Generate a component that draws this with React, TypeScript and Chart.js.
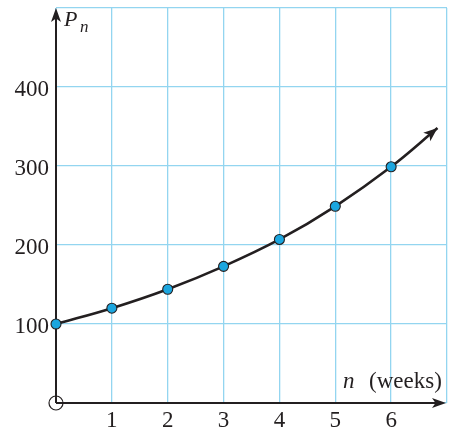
import React, { useEffect, useRef } from "react";
import { Chart, registerables } from "chart.js";

Chart.register(...registerables);

const nWeeks = [0, 1, 2, 3, 4, 5, 6];
const population = [100, 120, 144, 173, 207, 249, 299];
const curveEndN = 6.83;
const curveEndP = 348;
const xTickLabels = [1, 2, 3, 4, 5, 6];
const yTickLabels = [100, 200, 300, 400];

const FONT = "'Liberation Serif', 'DejaVu Serif', serif";
const GRID = "#93d5f0";
const INK = "#231f20";

function arrowHead(ctx: CanvasRenderingContext2D, tx: number, ty: number, ang: number, len: number, half: number) {
  ctx.save();
  ctx.translate(tx, ty);
  ctx.rotate(ang);
  ctx.beginPath();
  ctx.moveTo(0, 0);
  ctx.lineTo(-len, -half);
  ctx.lineTo(-len * 0.75, 0);
  ctx.lineTo(-len, half);
  ctx.closePath();
  ctx.fillStyle = INK;
  ctx.fill();
  ctx.restore();
}

const decorPlugin = {
  id: "decor",
  beforeDatasetsDraw(chart: any) {
    const { ctx, chartArea, scales } = chart;
    const x0 = scales.x.getPixelForValue(0);
    const y0 = scales.y.getPixelForValue(0);
    ctx.save();
    ctx.strokeStyle = INK;
    ctx.lineWidth = 2;
    ctx.beginPath();
    ctx.moveTo(x0, y0);
    ctx.lineTo(x0, chartArea.top + 6);
    ctx.moveTo(x0, y0);
    ctx.lineTo(chartArea.right - 7, y0);
    ctx.stroke();
    arrowHead(ctx, x0, chartArea.top, -Math.PI / 2, 14, 5);
    arrowHead(ctx, chartArea.right - 1, y0, 0, 14, 5);
    ctx.lineWidth = 1.2;
    ctx.beginPath();
    ctx.arc(x0, y0, 7, 0, Math.PI * 2);
    ctx.stroke();
    // tick labels
    ctx.fillStyle = INK;
    ctx.font = `23px ${FONT}`;
    ctx.textBaseline = "alphabetic";
    ctx.textAlign = "center";
    xTickLabels.forEach((v) => {
      ctx.fillText(String(v), scales.x.getPixelForValue(v), y0 + 24);
    });
    ctx.textAlign = "right";
    yTickLabels.forEach((v) => {
      ctx.fillText(String(v), x0 - 7, scales.y.getPixelForValue(v) + 9);
    });
    ctx.restore();
  },
  afterDatasetsDraw(chart: any) {
    const { ctx } = chart;
    const x0 = chart.scales.x.getPixelForValue(0);
    ctx.save();
    const meta = chart.getDatasetMeta(0);
    const last = meta.data[meta.data.length - 1];
    const cx = last.cp1x ?? meta.data[meta.data.length - 2].x;
    const cy = last.cp1y ?? meta.data[meta.data.length - 2].y;
    const ang = Math.atan2(last.y - cy, last.x - cx);
    arrowHead(ctx, last.x, last.y, ang, 14, 5.5);
    ctx.fillStyle = INK;
    ctx.textBaseline = "alphabetic";
    ctx.textAlign = "left";
    ctx.font = `italic 22px ${FONT}`;
    ctx.fillText("P", x0 + 8, 26);
    ctx.font = `italic 17px ${FONT}`;
    ctx.fillText("n", x0 + 24, 32);
    ctx.font = `italic 23px ${FONT}`;
    ctx.fillText("n", 343, 388);
    ctx.font = `23px ${FONT}`;
    ctx.fillText("(weeks)", 369, 388);
    ctx.restore();
  },
};

export default function App() {
  const ref = useRef<HTMLCanvasElement>(null);
  useEffect(() => {
    if (!ref.current) return;
    const pts = nWeeks.map((n, i) => ({ x: n, y: population[i] }));
    pts.push({ x: curveEndN, y: curveEndP });
    const radii = nWeeks.map(() => 5).concat([0]);
    const chart = new Chart(ref.current, {
      type: "line",
      data: {
        datasets: [
          {
            data: pts,
            borderColor: INK,
            borderWidth: 2.6,
            tension: 0.4,
            pointRadius: radii,
            pointBackgroundColor: "#1ba6df",
            pointBorderColor: INK,
            pointBorderWidth: 1.1,
            fill: false,
            clip: false,
          },
        ],
      },
      options: {
        responsive: false,
        animation: false,
        events: [],
        layout: { autoPadding: false, padding: { top: 8, right: 2, left: 0, bottom: 0 } },
        plugins: { legend: { display: false }, tooltip: { enabled: false }, title: { display: false } },
        scales: {
          x: {
            type: "linear",
            min: 0,
            max: 7,
            border: { display: false },
            grid: { color: GRID, lineWidth: 1.3, drawTicks: false },
            ticks: { stepSize: 1, display: false },
            afterFit: (s: any) => {
              s.height = 28;
            },
          },
          y: {
            type: "linear",
            min: 0,
            max: 500,
            border: { display: false },
            grid: { color: GRID, lineWidth: 1.3, drawTicks: false },
            ticks: { stepSize: 100, display: false },
            afterFit: (s: any) => {
              s.width = 56;
            },
          },
        },
      },
      plugins: [decorPlugin],
    } as any);
    return () => chart.destroy();
  }, []);
  return (
    <div style={{ position: "fixed", left: 0, top: 0, width: 449, height: 431, background: "#fff" }}>
      <canvas ref={ref} width={449} height={431} />
    </div>
  );
}
